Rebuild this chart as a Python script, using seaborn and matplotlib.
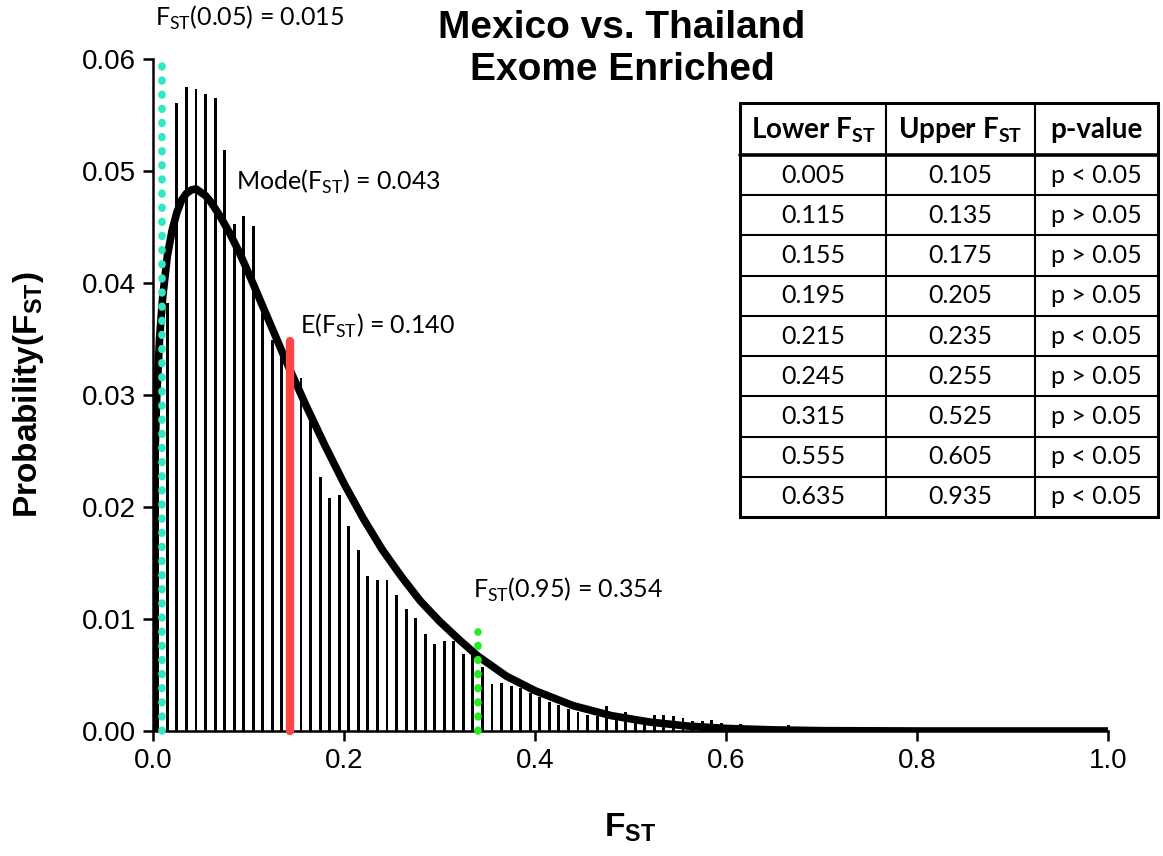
import numpy as np
import pandas as pd
import matplotlib
matplotlib.use("Agg")
import matplotlib.pyplot as plt
import seaborn as sns

# ---------------- data ----------------
bar_centers = [0.0] + [round(0.005 + 0.01 * i, 3) for i in range(100)]
bar_heights = [
    0.0093,
    0.0335, 0.0382, 0.0561, 0.0575, 0.0573, 0.0569, 0.0565, 0.0519, 0.0453, 0.0460,
    0.0451, 0.0373, 0.0349, 0.0334, 0.0330, 0.0315, 0.0280, 0.0227, 0.0208, 0.0211,
    0.0183, 0.0162, 0.0138, 0.0135, 0.0135, 0.0121, 0.0109, 0.0101, 0.0087, 0.0078,
    0.0080, 0.0080, 0.0069, 0.0068, 0.0057, 0.0042, 0.0043, 0.0040, 0.0038, 0.0034,
    0.0030, 0.0026, 0.0023, 0.0020, 0.0017, 0.0014, 0.0013, 0.0022, 0.0012, 0.0017,
    0.0010, 0.0010, 0.0014, 0.0014, 0.0013, 0.0012, 0.0009, 0.0009, 0.0010, 0.0007,
    0.0004, 0.0006, 0.0003, 0.0003, 0.0002, 0.0002, 0.0005, 0.0001, 0.0001, 0.0001,
    0.0001, 0.0001, 0.0000, 0.0000, 0.0000, 0.0000, 0.0000, 0.0000, 0.0000, 0.0000,
    0.0000, 0.0000, 0.0000, 0.0000, 0.0000, 0.0000, 0.0000, 0.0000, 0.0000, 0.0000,
    0.0000, 0.0000, 0.0000, 0.0000, 0.0000, 0.0000, 0.0000, 0.0000, 0.0000, 0.0000,
]

curve_x = [0.0, 0.0005, 0.001, 0.002, 0.004, 0.007, 0.01, 0.015, 0.02, 0.025, 0.03,
           0.035, 0.04, 0.045, 0.05, 0.055, 0.06, 0.07, 0.08, 0.09, 0.10, 0.11, 0.12,
           0.13, 0.14, 0.15, 0.16, 0.17, 0.18, 0.19, 0.20, 0.22, 0.24, 0.26, 0.28,
           0.30, 0.32, 0.34, 0.37, 0.40, 0.44, 0.48, 0.52, 0.56, 0.60, 0.65, 0.70,
           0.80, 0.90, 1.0]
curve_y = [0.0, 0.0159, 0.0197, 0.0244, 0.0301, 0.0352, 0.0386, 0.0424, 0.0447,
           0.0463, 0.0474, 0.0480, 0.0483, 0.0484, 0.0481, 0.0478, 0.0473, 0.0460,
           0.0445, 0.0428, 0.0409, 0.0389, 0.0369, 0.0349, 0.0329, 0.0310, 0.0291,
           0.0273, 0.0255, 0.0238, 0.0221, 0.0190, 0.0162, 0.0138, 0.0116, 0.0098,
           0.0082, 0.0067, 0.0049, 0.0036, 0.00226, 0.00137, 0.0008, 0.00044,
           0.00023, 0.0001, 0.00003, 0.0, 0.0, 0.0]

q05_pos, q05_top = 0.009, 0.0605
mean_pos, mean_top = 0.1435, 0.0348
q95_pos, q95_top = 0.340, 0.0088

table_header = ["Lower F", "Upper F", "p-value"]
lower_fst = ["0.005", "0.115", "0.155", "0.195", "0.215", "0.245", "0.315", "0.555", "0.635"]
upper_fst = ["0.105", "0.135", "0.175", "0.205", "0.235", "0.255", "0.525", "0.605", "0.935"]
p_values = ["p < 0.05", "p > 0.05", "p > 0.05", "p > 0.05", "p < 0.05",
            "p > 0.05", "p > 0.05", "p < 0.05", "p < 0.05"]

# ---------------- style ----------------
sns.set_theme(style="ticks")
plt.rcParams["font.family"] = ["Liberation Sans", "DejaVu Sans"]
plt.rcParams["text.color"] = "black"
plt.rcParams["axes.labelcolor"] = "black"
plt.rcParams["xtick.color"] = "black"
plt.rcParams["ytick.color"] = "black"
ANNOT = ["Lato", "DejaVu Sans"]

W, H = 1163, 856
fig = plt.figure(figsize=(W / 100, H / 100), dpi=100)
fig.patch.set_facecolor("white")
ax = fig.add_axes([153 / W, 1 - 731 / H, (1108 - 153) / W, (731 - 59) / H])
ax.set_facecolor("white")

# histogram bars
ax.bar(bar_centers, bar_heights, width=0.003, color="black", linewidth=0, zorder=2)

# curve
df_curve = pd.DataFrame({"x": curve_x, "y": curve_y})
sns.lineplot(data=df_curve, x="x", y="y", color="black", linewidth=5.5, ax=ax,
             zorder=4)

# vertical markers
ax.plot([q05_pos, q05_pos], [0, q05_top], color="#2EE8C6", linewidth=5.5,
        linestyle=(0, (0.1, 1.75)), dash_capstyle="round", zorder=5, clip_on=False)
ax.plot([mean_pos, mean_pos], [0, mean_top], color="#FF4444", linewidth=6,
        solid_capstyle="round", zorder=6, clip_on=False)
ax.plot([q95_pos, q95_pos], [0, q95_top], color="#22EE22", linewidth=5.5,
        linestyle=(0, (0.1, 1.75)), dash_capstyle="round", zorder=5, clip_on=False)

ax.set_xlim(0, 1.0)
ax.set_ylim(0, 0.06)
ax.set_xticks([0.0, 0.2, 0.4, 0.6, 0.8, 1.0])
ax.set_xticklabels(["0.0", "0.2", "0.4", "0.6", "0.8", "1.0"])
ax.set_yticks([0.0, 0.01, 0.02, 0.03, 0.04, 0.05, 0.06])
ax.set_yticklabels(["0.00", "0.01", "0.02", "0.03", "0.04", "0.05", "0.06"])
ax.tick_params(axis="both", labelsize=20, length=7, width=1.8, color="black",
               labelcolor="black", direction="out", pad=5)
for s in ["top", "right"]:
    ax.spines[s].set_visible(False)
for s in ["left", "bottom"]:
    ax.spines[s].set_linewidth(1.8)
    ax.spines[s].set_color("black")

ax.set_xlabel(r"F$_{\mathregular{ST}}$", fontsize=24, fontweight="bold", labelpad=27)
ax.set_ylabel(r"Probability(F$_{\mathregular{ST}}$)", fontsize=24, fontweight="bold",
              labelpad=26)

# annotations
ax.text(0.002, 0.0637, r"F$_{\mathregular{ST}}$(0.05) = 0.015", fontsize=18,
        family=ANNOT, va="center", ha="left", clip_on=False)
ax.text(0.0869, 0.0490, r"Mode(F$_{\mathregular{ST}}$) = 0.043", fontsize=18,
        family=ANNOT, va="center", ha="left")
ax.text(0.154, 0.0362, r"E(F$_{\mathregular{ST}}$) = 0.140", fontsize=18,
        family=ANNOT, va="center", ha="left")
ax.text(0.335, 0.0126, r"F$_{\mathregular{ST}}$(0.95) = 0.354", fontsize=18,
        family=ANNOT, va="center", ha="left")

fig.text(622 / W, 1 - 10 / H, "Mexico vs. Thailand\nExome Enriched", ha="center",
         va="top", fontsize=28, fontweight="bold", linespacing=1.22)

# ---------------- table ----------------
tx0, tx1, ty0, ty1 = 740, 1158, 103, 517
tax = fig.add_axes([tx0 / W, 1 - ty1 / H, (tx1 - tx0) / W, (ty1 - ty0) / H])
tax.set_xlim(0, tx1 - tx0)
tax.set_ylim(ty1 - ty0, 0)
tax.axis("off")
col_edges = [0, 146, 295, 418]
header_h = 52
row_h = (ty1 - ty0 - header_h) / len(lower_fst)
tw = tx1 - tx0
th = ty1 - ty0
tax.plot([0, tw, tw, 0, 0], [0, 0, th, th, 0], color="black", lw=2.2, clip_on=False,
         solid_joinstyle="miter")
for cx in col_edges[1:-1]:
    tax.plot([cx, cx], [0, th], color="black", lw=1.5, clip_on=False)
tax.plot([0, tw], [header_h, header_h], color="black", lw=2.6, clip_on=False)
for i in range(1, len(lower_fst)):
    yy = header_h + i * row_h
    tax.plot([0, tw], [yy, yy], color="black", lw=1.5, clip_on=False)

centers = [(col_edges[i] + col_edges[i + 1]) / 2 for i in range(3)]
for j, h in enumerate(table_header):
    label = h + r"$_{\mathregular{ST}}$" if j < 2 else h
    tax.text(centers[j], header_h / 2 + 1, label, ha="center", va="center",
             fontsize=20, fontweight="bold", family=ANNOT)
for i in range(len(lower_fst)):
    yc = header_h + (i + 0.5) * row_h
    for j, val in enumerate([lower_fst[i], upper_fst[i], p_values[i]]):
        tax.text(centers[j], yc, val, ha="center", va="center", fontsize=18,
                 family=ANNOT)

fig.savefig("out.png", dpi=100, facecolor="white")
